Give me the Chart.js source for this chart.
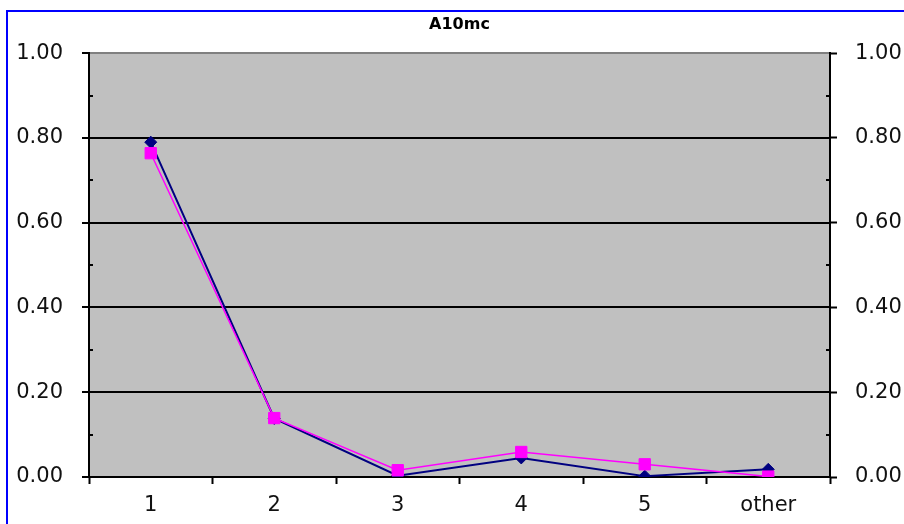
<!DOCTYPE html>
<html>
<head>
<meta charset="utf-8">
<script src="https://cdn.jsdelivr.net/npm/chart.js@4/dist/chart.umd.min.js"></script>
<style>
  html, body { margin: 0; padding: 0; background: #fff; overflow: hidden; }
  #wrap { position: relative; width: 904px; height: 524px; overflow: hidden; }
  #frame { position: absolute; left: 6px; top: 10px; width: 1000px; height: 1000px;
           border-left: 2px solid #0000ff; border-top: 2px solid #0000ff; pointer-events: none; }
</style>
</head>
<body>
<div id="wrap">
  <canvas id="chart" width="904" height="524"></canvas>
  <div id="frame"></div>
</div>
<script>
const categories = ['1', '2', '3', '4', '5', 'other'];
const seriesBlue = [0.79, 0.138, 0.003, 0.045, 0.002, 0.018];
const seriesPink = [0.764, 0.139, 0.016, 0.059, 0.03, 0.001];
const yTicks = [0, 0.2, 0.4, 0.6, 0.8, 1.0];
const yMinorTicks = [0.1, 0.3, 0.5, 0.7, 0.9];

const tickFont = { family: 'DejaVu Sans', size: 21 };

// grey plot background
const plotBackground = {
  id: 'plotBackground',
  beforeDraw(chart) {
    const { ctx, chartArea: a } = chart;
    ctx.save();
    ctx.fillStyle = '#c0c0c0';
    ctx.fillRect(a.left, a.top, a.right - a.left, a.bottom - a.top);
    ctx.restore();
  }
};

// short minor ticks inside the plot on both value axes
const minorTicks = {
  id: 'minorTicks',
  afterDraw(chart) {
    const { ctx, chartArea: a } = chart;
    const y = chart.scales.y;
    ctx.save();
    ctx.strokeStyle = '#000';
    ctx.lineWidth = 2;
    yMinorTicks.forEach((v) => {
      const py = Math.round(y.getPixelForValue(v));
      ctx.beginPath();
      ctx.moveTo(a.left, py);
      ctx.lineTo(a.left + 4, py);
      ctx.moveTo(a.right, py);
      ctx.lineTo(a.right - 4, py);
      ctx.stroke();
    });
    ctx.restore();
  }
};

const fmt = (v) => Number(v).toFixed(2);

new Chart(document.getElementById('chart'), {
  type: 'line',
  data: {
    labels: categories,
    datasets: [
      {
        label: 'series 2',
        data: seriesPink,
        order: 0,
        borderColor: '#ff00ff',
        backgroundColor: '#ff00ff',
        borderWidth: 1.5,
        pointStyle: 'rect',
        pointRadius: 8,
        pointBorderWidth: 1,
        tension: 0
      },
      {
        label: 'series 1',
        data: seriesBlue,
        order: 1,
        borderColor: '#000080',
        backgroundColor: '#000080',
        borderWidth: 2,
        pointStyle: 'rectRot',
        pointRadius: 6,
        pointBorderWidth: 1,
        tension: 0
      }
    ]
  },
  options: {
    responsive: false,
    animation: false,
    layout: { padding: 0 },
    plugins: {
      legend: { display: false },
      tooltip: { enabled: false },
      title: {
        display: true,
        text: 'A10mc',
        fullSize: false,
        color: '#000',
        font: { family: 'DejaVu Sans', size: 16, weight: 'bold', lineHeight: 1.2 },
        padding: { top: 15, bottom: 19 }
      }
    },
    scales: {
      x: {
        offset: true,
        afterFit(scale) { scale.height = 47; },
        grid: {
          offset: true,
          drawOnChartArea: false,
          tickLength: 7,
          tickWidth: 2,
          tickColor: '#000'
        },
        border: { color: '#000', width: 2 },
        ticks: { color: '#111', font: tickFont, padding: 9, maxRotation: 0 }
      },
      y: {
        position: 'left',
        min: 0,
        max: 1,
        afterFit(scale) { scale.width = 89; },
        afterBuildTicks(scale) { scale.ticks = yTicks.map((v) => ({ value: v })); },
        grid: {
          color: (c) => (c.tick && c.tick.value === 1 ? '#808080' : c.tick && c.tick.value === 0 ? 'rgba(0,0,0,0)' : '#000'),
          lineWidth: 2,
          tickLength: 7,
          tickWidth: 2,
          tickColor: '#000'
        },
        border: { color: '#000', width: 2 },
        ticks: { color: '#111', font: tickFont, padding: 19, callback: fmt }
      },
      y2: {
        position: 'right',
        min: 0,
        max: 1,
        afterFit(scale) { scale.width = 74; },
        afterBuildTicks(scale) { scale.ticks = yTicks.map((v) => ({ value: v })); },
        grid: {
          drawOnChartArea: false,
          tickLength: 7,
          tickWidth: 2,
          tickColor: '#000'
        },
        border: { color: '#000', width: 2 },
        ticks: { color: '#111', font: tickFont, padding: 18, callback: fmt }
      }
    }
  },
  plugins: [plotBackground, minorTicks]
});
</script>
</body>
</html>
